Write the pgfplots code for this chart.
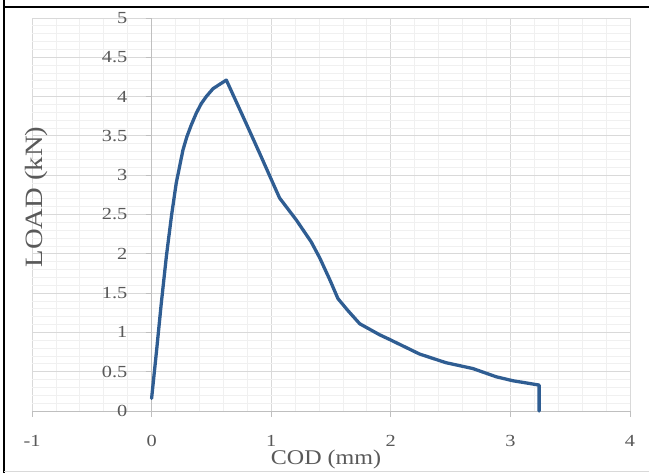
\documentclass[border=0pt]{standalone}
\usepackage{fontspec}
\setmainfont{Liberation Serif}
\usepackage{graphicx}
\usepackage{pgfplots}
\pgfplotsset{compat=1.18}
\definecolor{curveblue}{RGB}{47,93,146}
\definecolor{txtgray}{RGB}{89,89,89}
\definecolor{axgray}{RGB}{191,191,191}
\definecolor{majgrid}{RGB}{217,217,217}
\definecolor{mingrid}{RGB}{240,240,240}

\begin{document}
\begin{tikzpicture}[x=1bp,y=1bp]
\useasboundingbox (0,0) rectangle (649,473);
\fill[white] (0,0) rectangle (649,473);

\begin{axis}[
    at={(32bp,62bp)}, anchor=south west,
    scale only axis,
    width=598bp, height=393bp,
    xmin=-1, xmax=4, ymin=0, ymax=5,
    axis lines=middle,
    axis line style={-, draw=axgray, line width=0.8pt},
    hide obscured x ticks=false,
    hide obscured y ticks=false,
    xtick={-1,0,1,2,3,4},
    ytick={0,0.5,...,5},
    yticklabels={0,0.5,1,1.5,2,2.5,3,3.5,4,4.5,5},
    minor x tick num=4,
    minor y tick num=4,
    grid=both,
    major grid style={draw=majgrid, line width=0.8pt},
    minor grid style={draw=mingrid, line width=0.8pt},
    tick align=outside,
    major tick length=6bp,
    minor tick length=0pt,
    tick style={draw=axgray, line width=0.8pt},
    /pgf/number format/assume math mode=true,
    ticklabel style={font=\fontsize{17}{17}\selectfont, text=txtgray, xscale=1.2, inner sep=1bp},
    xticklabel style={anchor=center, yshift=-24bp},
    yticklabel style={anchor=east, xshift=-14bp},
    clip=false,
]
% load vs crack opening displacement
\addplot[curveblue, line width=3.3pt, line join=round, line cap=round] coordinates {
    (0, 0.16)
    (0.039, 0.73)
    (0.081, 1.37)
    (0.123, 1.96)
    (0.165, 2.47)
    (0.206, 2.90)
    (0.234, 3.11)
    (0.262, 3.32)
    (0.295, 3.49)
    (0.332, 3.64)
    (0.374, 3.79)
    (0.415, 3.91)
    (0.457, 4.00)
    (0.513, 4.10)
    (0.563, 4.15)
    (0.625, 4.21)
    (0.79, 3.66)
    (0.903, 3.28)
    (1.014, 2.90)
    (1.07, 2.71)
    (1.21, 2.43)
    (1.335, 2.15)
    (1.405, 1.95)
    (1.49, 1.67)
    (1.558, 1.43)
    (1.64, 1.28)
    (1.74, 1.11)
    (1.906, 0.97)
    (1.99, 0.91)
    (2.24, 0.725)
    (2.46, 0.615)
    (2.686, 0.54)
    (2.88, 0.436)
    (3.02, 0.385)
    (3.24, 0.33)
    (3.24, 0)
};
\end{axis}

% axis titles
\node[text=txtgray, font=\fontsize{21}{21}\selectfont, anchor=base, inner sep=1bp] at (326,8) {\scalebox{1.15}[1]{COD (mm)}};
\node[text=txtgray, font=\fontsize{25}{25}\selectfont, rotate=90, anchor=base] at (42,276) {\scalebox{1.15}[1]{LOAD (kN)}};

% frame of the pasted figure
\draw[black, line width=2.8pt] (4,473) -- (4,466) -- (649,466);
\draw[black, line width=2.8pt] (4,466) -- (4,0);
\draw[majgrid, line width=0.8pt] (4,2) -- (649,2);
\end{tikzpicture}
\end{document}
